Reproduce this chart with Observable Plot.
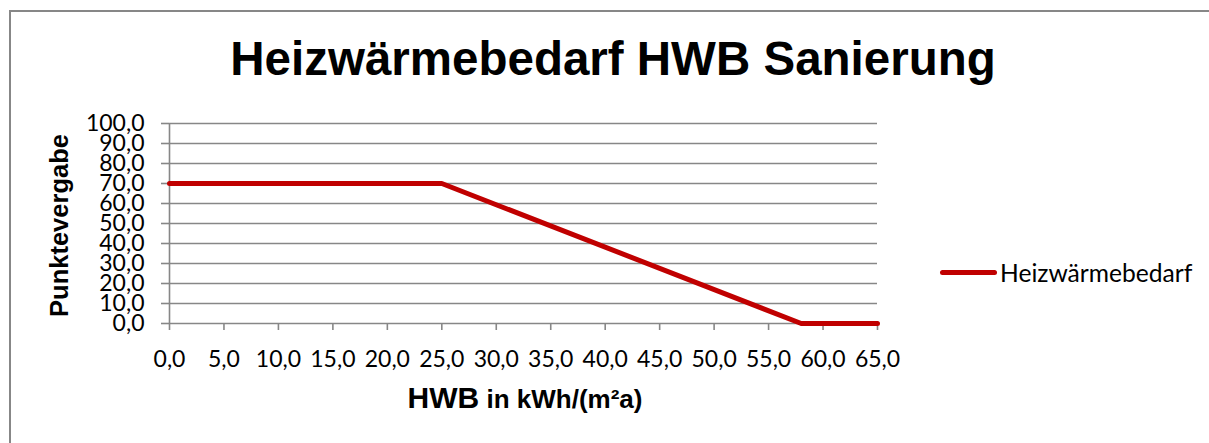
<!DOCTYPE html>
<html>
<head>
<meta charset="utf-8">
<script src="https://cdn.jsdelivr.net/npm/d3@7"></script>
<script src="https://cdn.jsdelivr.net/npm/@observablehq/plot@0.6"></script>
<style>
  html, body { margin: 0; padding: 0; background: #fff; }
  #wrap { position: relative; width: 1209px; height: 443px; overflow: hidden; background: #fff; }
  #frame { position: absolute; left: 9px; top: 10px; width: 1300px; height: 500px; border-left: 2px solid #878787; border-top: 2px solid #878787; box-sizing: border-box; }
  #title { position: absolute; left: 0; top: 35px; width: 1226px; text-align: center; font-family: "Liberation Sans", Arial, sans-serif; font-weight: bold; font-size: 47.5px; line-height: 47.5px; color: #000; white-space: nowrap; }
  #xtitle { position: absolute; left: 169px; top: 383px; width: 712px; text-align: center; font-family: "Liberation Sans", Arial, sans-serif; font-weight: bold; line-height: 29px; color: #000; white-space: nowrap; }
  #ytitle { position: absolute; left: -91.5px; top: 212.5px; width: 300px; height: 25px; line-height: 25px; text-align: center; font-family: "Liberation Sans", Arial, sans-serif; font-weight: bold; font-size: 25.5px; color: #000; transform: rotate(-90deg); transform-origin: 50% 50%; white-space: nowrap; }
  #legend { position: absolute; left: 940px; top: 258px; height: 28px; display: flex; align-items: center; font-family: Lato, "Open Sans", sans-serif; font-size: 24.6px; color: #000; white-space: nowrap; }
  #legend .sw { display: inline-block; width: 57px; height: 5px; border-radius: 3px; background: #C00000; margin-right: 3px; }
  #chart { position: absolute; left: 0; top: 0; }
</style>
</head>
<body>
<div id="wrap">
  <div id="frame"></div>
  <div id="chart"></div>
  <div id="title"></div>
  <div id="xtitle"></div>
  <div id="ytitle"></div>
  <div id="legend"></div>
</div>
<script>
// Data
const seriesName = "Heizwärmebedarf";
const hwb = [0, 25, 58, 65];
const punkte = [70, 70, 0, 0];
const xTicks = [0, 5, 10, 15, 20, 25, 30, 35, 40, 45, 50, 55, 60, 65];
const yTicks = [0, 10, 20, 30, 40, 50, 60, 70, 80, 90, 100];
const titleText = "Heizwärmebedarf HWB Sanierung";
const xTitleMain = "HWB";
const xTitleUnit = " in kWh/(m²a)";
const yTitleText = "Punktevergabe";

const rows = hwb.map((x, i) => ({x, y: punkte[i]}));
const fmt = d => d.toFixed(1).replace(".", ",");
const grey = "#878787";

const chart = Plot.plot({
  width: 1209,
  height: 443,
  marginLeft: 169,
  marginRight: 332,
  marginTop: 123,
  marginBottom: 120,
  x: {domain: [0, 65]},
  y: {domain: [0, 100]},
  style: {fontFamily: "Lato, 'Open Sans', sans-serif", fontSize: "23px", color: "#000", background: "transparent"},
  marks: [
    Plot.gridY(yTicks, {stroke: grey, strokeOpacity: 1, strokeWidth: 1.6}),
    Plot.axisY(yTicks, {tickSize: 8, tickPadding: 17, tickFormat: fmt, stroke: grey, strokeWidth: 1.6, color: "#000", label: null}),
    Plot.axisX(xTicks, {tickSize: 7, tickPadding: 20, tickFormat: fmt, stroke: grey, strokeWidth: 1.6, color: "#000", label: null}),
    Plot.ruleX([0], {y1: 0, y2: 100, stroke: grey, strokeWidth: 1.6}),
    Plot.line(rows, {x: "x", y: "y", stroke: "#C00000", strokeWidth: 5})
  ]
});
document.getElementById("chart").appendChild(chart);

document.getElementById("title").textContent = titleText;
const xt = document.getElementById("xtitle");
const s1 = document.createElement("span"); s1.style.fontSize = "30px"; s1.textContent = xTitleMain;
const s2 = document.createElement("span"); s2.style.fontSize = "26px"; s2.textContent = xTitleUnit;
xt.appendChild(s1); xt.appendChild(s2);
document.getElementById("ytitle").textContent = yTitleText;
const lg = document.getElementById("legend");
const sw = document.createElement("span"); sw.className = "sw";
const lt = document.createElement("span"); lt.textContent = seriesName;
lg.appendChild(sw); lg.appendChild(lt);
</script>
</body>
</html>
